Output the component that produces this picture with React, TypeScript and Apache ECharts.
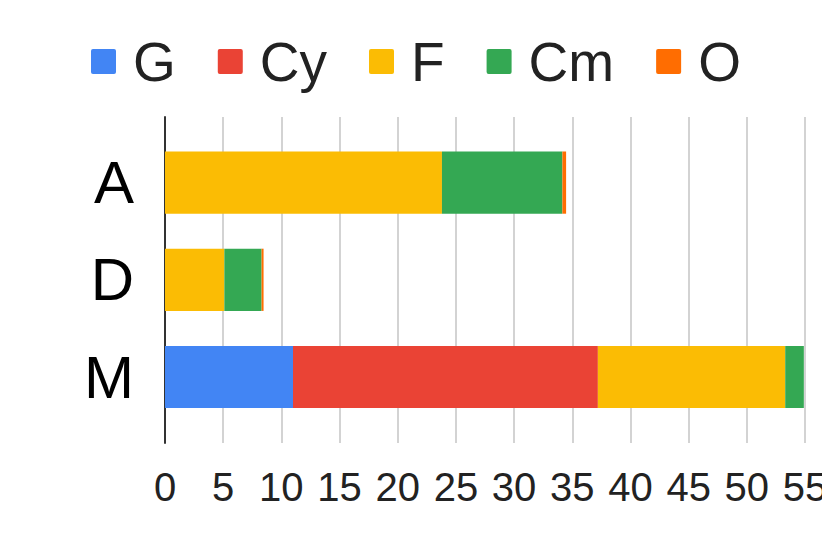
import React, { useEffect, useRef } from "react";
import * as echarts from "echarts";

const categories = ["A", "D", "M"];
const seriesNames = ["G", "Cy", "F", "Cm", "O"];
const gValues = [0, 0, 11];
const cyValues = [0, 0, 26.2];
const fValues = [23.8, 5.1, 16.1];
const cmValues = [10.35, 3.2, 1.6];
const oValues = [0.32, 0.17, 0];
const colors = ["#4285F4", "#EA4335", "#FBBC04", "#34A853", "#FF6D01"];
const xMin = 0;
const xMax = 55;
const xInterval = 5;

const FONT = "'Liberation Sans', Arial, sans-serif";
const ICON = "path://M2,0 H23 Q25,0 25,2 V23 Q25,25 23,25 H2 Q0,25 0,23 V2 Q0,0 2,0 Z";

export default function App() {
  const ref = useRef<HTMLDivElement>(null);
  useEffect(() => {
    if (!ref.current) return;
    const chart = echarts.init(ref.current, undefined, { renderer: "svg" });
    const allValues = [gValues, cyValues, fValues, cmValues, oValues];
    chart.setOption({
      animation: false,
      backgroundColor: "#ffffff",
      legend: {
        top: 21,
        left: 78,
        itemWidth: 25,
        itemHeight: 25,
        itemGap: 42,
        icon: ICON,
        textStyle: {
          fontFamily: FONT,
          fontSize: 55,
          color: "#222222",
          padding: [0, 0, 0, 12],
        },
        data: seriesNames,
      },
      grid: [
        { left: 157, right: 33, top: 126, bottom: 122.4 },
        { left: 157, right: 33, top: 109, bottom: 105 },
      ],
      xAxis: [
        {
          gridIndex: 0,
          type: "value",
          min: xMin,
          max: xMax,
          interval: xInterval,
          axisLine: { show: false },
          axisTick: { show: false },
          axisLabel: { show: false },
          splitLine: { show: false },
        },
        {
          gridIndex: 1,
          type: "value",
          min: xMin,
          max: xMax,
          interval: xInterval,
          axisLine: { show: false },
          axisTick: { show: false },
          axisLabel: {
            show: true,
            fontFamily: FONT,
            fontSize: 40,
            color: "#222222",
            margin: 24,
          },
          splitLine: { show: true, lineStyle: { color: "#d3d3d3", width: 2 } },
        },
      ],
      yAxis: [
        {
          gridIndex: 0,
          type: "category",
          data: categories,
          inverse: true,
          axisLine: { show: false },
          axisTick: { show: false },
          axisLabel: {
            fontFamily: FONT,
            fontSize: 60,
            color: "#000000",
            margin: 31,
          },
          splitLine: { show: false },
        },
        {
          gridIndex: 1,
          type: "value",
          min: 0,
          max: 1,
          axisLine: { show: true, lineStyle: { color: "#333333", width: 2 } },
          axisTick: { show: false },
          axisLabel: { show: false },
          splitLine: { show: false },
        },
      ],
      series: seriesNames.map((name, i) => ({
        name,
        type: "bar",
        stack: "total",
        xAxisIndex: 0,
        yAxisIndex: 0,
        barCategoryGap: "36%",
        itemStyle: { color: colors[i] },
        data: allValues[i],
      })),
    });
    return () => chart.dispose();
  }, []);
  return <div ref={ref} style={{ width: 830, height: 540 }} />;
}
